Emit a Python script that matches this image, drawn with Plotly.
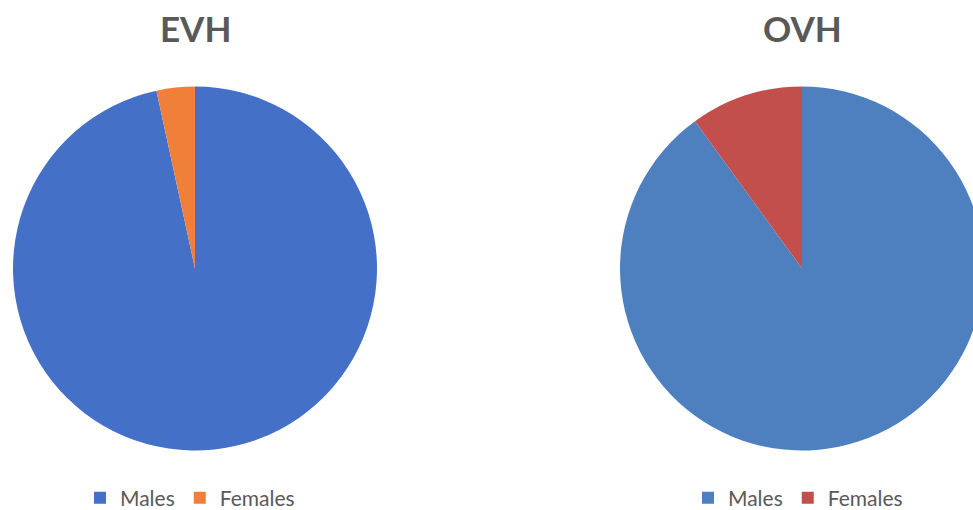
import plotly.graph_objects as go

W, H = 1000, 510  # figure is a bit wider than the 973px window; the right pie is cropped like the reference

labels = ["Males", "Females"]
evh_values = [96.6, 3.4]
ovh_values = [90.0, 10.0]
chart_titles = ["EVH", "OVH"]

evh_colors = ["#4470C8", "#F07F3A"]
ovh_colors = ["#4E80BF", "#C24F4C"]

def px_domain(cx, cy, r):
    return dict(x=[(cx - r) / W, (cx + r) / W],
                y=[(H - cy - r) / H, (H - cy + r) / H])

fig = go.Figure()
fig.add_trace(go.Pie(
    labels=labels, values=evh_values, sort=False, direction="counterclockwise",
    rotation=0, textinfo="none", hoverinfo="label+value",
    marker=dict(colors=evh_colors, line=dict(width=0)),
    domain=px_domain(195, 268.5, 182), legend="legend", showlegend=True,
))
fig.add_trace(go.Pie(
    labels=labels, values=ovh_values, sort=False, direction="counterclockwise",
    rotation=0, textinfo="none", hoverinfo="label+value",
    marker=dict(colors=ovh_colors, line=dict(width=0)),
    domain=px_domain(802, 268.5, 182), showlegend=False,
))
# legend entries for the OVH pie (pie slices cannot be sent to a second legend)
for lab, col in zip(labels, ovh_colors):
    fig.add_trace(go.Scatter(
        x=[None], y=[None], mode="markers", name=lab, legend="legend2",
        marker=dict(symbol="square", size=12, color=col), hoverinfo="skip",
    ))

title_font = dict(family="Lato, Open Sans, sans-serif", size=35, color="#595959")
for t, cx in zip(chart_titles, [195, 802]):
    fig.add_annotation(text="<b>%s</b>" % t, x=cx / W, y=(H - 28) / H,
                       xref="paper", yref="paper", xanchor="center", yanchor="middle",
                       showarrow=False, font=title_font)

legend_font = dict(family="Lato, Open Sans, sans-serif", size=21, color="#595959")
fig.update_layout(
    width=W, height=H,
    margin=dict(l=0, r=0, t=0, b=0, autoexpand=False),
    paper_bgcolor="white", plot_bgcolor="white",
    xaxis=dict(visible=False), yaxis=dict(visible=False),
    showlegend=True,
    legend=dict(orientation="h", x=80 / W, y=(H - 498) / H, xanchor="left", yanchor="middle",
                font=legend_font, bgcolor="rgba(0,0,0,0)", itemclick=False),
    legend2=dict(orientation="h", x=688 / W, y=(H - 498) / H, xanchor="left", yanchor="middle",
                 font=legend_font, bgcolor="rgba(0,0,0,0)", itemclick=False),
)

fig.write_html("out.html", config={"displayModeBar": False},
               post_script="document.body.style.margin='0';document.body.style.overflow='hidden';")
